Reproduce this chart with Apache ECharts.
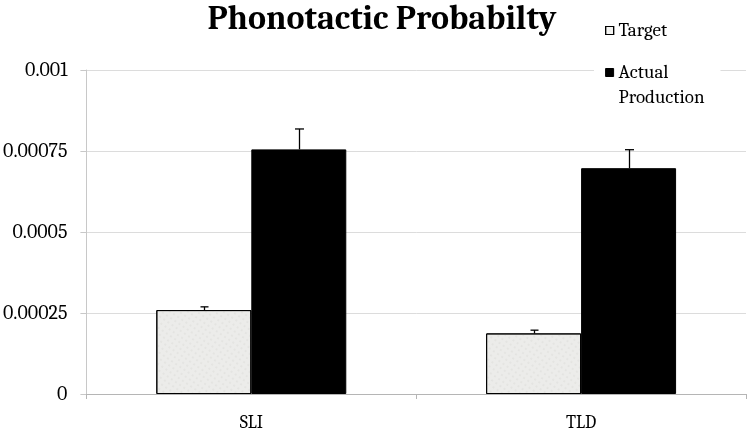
<!DOCTYPE html>
<html>
<head>
<meta charset="utf-8">
<script src="https://cdn.jsdelivr.net/npm/echarts@6/dist/echarts.min.js"></script>
<style>
html,body{margin:0;padding:0;background:#fff;}
#chart{width:750px;height:432px;}
</style>
</head>
<body>
<div id="chart"></div>
<script>
var categories = ['SLI', 'TLD'];
var seriesNames = ['Target', 'Actual Production'];
var targetValues = [0.000259, 0.000187];
var targetErrors = [0.00001, 0.00001];
var actualValues = [0.000755, 0.000697];
var actualErrors = [0.000063, 0.000057];
var yTicks = [0, 0.00025, 0.0005, 0.00075, 0.001];

var SERIF = 'Cambria, "DejaVu Serif", "Liberation Serif", serif';
var chart = echarts.init(document.getElementById('chart'));

var barCategoryGap = 0.424;
function errorSeries(values, errors, groupIndex, cap) {
  return {
    type: 'custom',
    name: seriesNames[groupIndex] + ' error',
    z: 5,
    silent: true,
    data: values.map(function (v, i) { return [i, v, v + errors[i]]; }),
    renderItem: function (params, api) {
      var catW = api.size([1, 0])[0];
      var barW = catW * (1 - barCategoryGap) / 2;
      var base = api.coord([api.value(0), api.value(1)]);
      var top = api.coord([api.value(0), api.value(2)]);
      var x = Math.round(base[0] + (groupIndex === 0 ? -barW / 2 : barW / 2)) + 0.5;
      var st = { stroke: '#000', lineWidth: 1.3 };
      return {
        type: 'group',
        children: [
          { type: 'line', shape: { x1: x, y1: base[1], x2: x, y2: top[1] }, style: st },
          { type: 'line', shape: { x1: x - cap, y1: top[1], x2: x + cap, y2: top[1] }, style: st }
        ]
      };
    }
  };
}

chart.setOption({
  animation: false,
  backgroundColor: '#fff',
  title: {
    text: 'Phonotactic Probabilty',
    left: 377,
    textAlign: 'center',
    top: -3,
    textStyle: { fontFamily: SERIF, fontWeight: 'bold', fontSize: 34, color: '#000' }
  },
  legend: {
    orient: 'vertical',
    left: 594,
    top: 14,
    itemWidth: 8,
    itemHeight: 8,
    itemGap: -8,
    icon: 'rect',
    backgroundColor: '#fff',
    padding: [4, 16, 4, 11],
    data: [
      { name: seriesNames[0], itemStyle: { color: '#f4f4f2', borderColor: '#000', borderWidth: 1.2 } },
      { name: seriesNames[1], itemStyle: { color: '#000', borderColor: '#000', borderWidth: 1 } }
    ],
    formatter: function (n) { return n === 'Actual Production' ? '\nActual\nProduction' : n; },
    textStyle: { fontFamily: SERIF, fontSize: 19, color: '#000', lineHeight: 25 }
  },
  grid: { left: 86, right: 4, top: 70, bottom: 38 },
  xAxis: {
    type: 'category',
    data: categories,
    axisLine: { lineStyle: { color: '#b5b5b5', width: 1 } },
    axisTick: { show: true, length: 5, lineStyle: { color: '#b5b5b5' } },
    axisLabel: { fontFamily: SERIF, fontSize: 18, color: '#000', margin: 20 }
  },
  yAxis: {
    type: 'value',
    min: 0,
    max: 0.001,
    interval: 0.00025,
    axisLine: { show: true, lineStyle: { color: '#c8c8c8', width: 1 } },
    axisTick: { show: true, length: 6, lineStyle: { color: '#c8c8c8' } },
    splitLine: { lineStyle: { color: '#dcdcdc', width: 1 } },
    axisLabel: {
      fontFamily: SERIF, fontSize: 20, color: '#000', margin: 19,
      formatter: function (v) {
        for (var i = 0; i < yTicks.length; i++) {
          if (Math.abs(v - yTicks[i]) < 1e-9) return String(yTicks[i]);
        }
        return '';
      }
    }
  },
  series: [
    {
      name: seriesNames[0],
      type: 'bar',
      data: targetValues,
      barGap: '0%',
      barCategoryGap: '42.4%',
      itemStyle: {
        color: '#ececea', borderColor: '#000', borderWidth: 1,
        decal: {
          symbol: 'circle', symbolSize: 0.6, color: 'rgba(160,160,155,0.45)',
          dashArrayX: [2, 3], dashArrayY: [2, 3], rotation: 0.6
        }
      }
    },
    {
      name: seriesNames[1],
      type: 'bar',
      data: actualValues,
      barGap: '0%',
      barCategoryGap: '42.4%',
      itemStyle: { color: '#000', borderColor: '#000', borderWidth: 1 }
    },
    errorSeries(targetValues, targetErrors, 0, 4),
    errorSeries(actualValues, actualErrors, 1, 4.5)
  ]
});
</script>
</body>
</html>
